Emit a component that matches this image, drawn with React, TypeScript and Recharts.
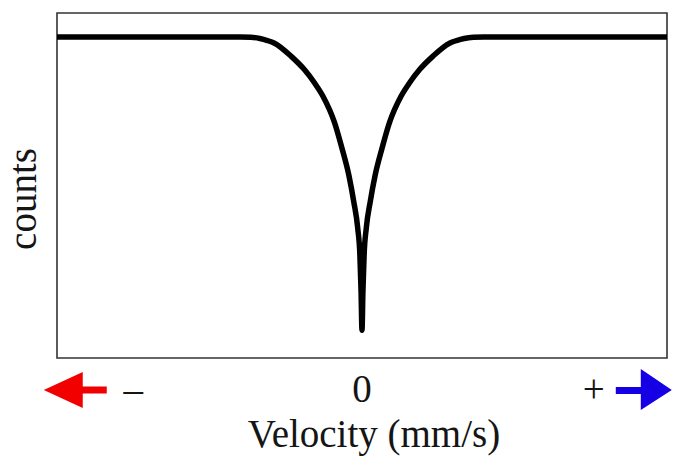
import React from 'react';
import { LineChart, Line, XAxis, YAxis, ReferenceArea, Label } from 'recharts';

// Velocity (mm/s) sample points of the absorption spectrum
const velocity = [
  -10, -4.0, -3.65, -3.35, -3.1, -2.87, -2.32, -1.89, -1.56, -1.28, -0.9, -0.65, -0.43, -0.27, -0.14, -0.07, -0.03,
  0,
  0.03, 0.07, 0.14, 0.27, 0.43, 0.65, 0.9, 1.28, 1.56, 1.89, 2.32, 2.87, 3.1, 3.35, 3.65, 4.0, 10,
];
// Relative counts (1 = off-resonance baseline)
const counts = [
  1, 1, 0.999, 0.995, 0.988, 0.979, 0.934, 0.889, 0.844, 0.798, 0.708, 0.618, 0.528, 0.438, 0.348, 0.258, 0.13,
  0,
  0.13, 0.258, 0.348, 0.438, 0.528, 0.618, 0.708, 0.798, 0.844, 0.889, 0.934, 0.979, 0.988, 0.995, 0.999, 1, 1,
];
const xTicks = [-7.5, 0, 7.6];
const tickLabels = ['–', '0', '+'];
const xDomain: [number, number] = [-10, 10];
const yDomain: [number, number] = [-0.095, 1.082];

const data = velocity.map((v, i) => ({ v, c: counts[i] }));

const FONT = '"Liberation Serif", "Times New Roman", serif';
const FS = 39;
const TEXT = '#151515';

function VelocityTick(props: any) {
  const { x, y, payload } = props;
  const idx = xTicks.indexOf(payload.value);
  const label = idx >= 0 ? tickLabels[idx] : '';
  const val = payload.value as number;
  return (
    <g>
      {val < 0 && (
        <path
          d={`M${x - 89.5},${y + 32} L${x - 50.5},${y + 14} L${x - 50.5},${y + 28.5} L${x - 26.5},${y + 28.5} L${x - 26.5},${y + 35.5} L${x - 50.5},${y + 35.5} L${x - 50.5},${y + 50} Z`}
          fill="#f20000"
        />
      )}
      {val > 0 && (
        <path
          d={`M${x + 22},${y + 29} L${x + 47},${y + 29} L${x + 47},${y + 11} L${x + 78},${y + 32} L${x + 47},${y + 52} L${x + 47},${y + 36} L${x + 22},${y + 36} Z`}
          fill="#1500e6"
        />
      )}
      <text x={x} y={y + 44} textAnchor="middle" fontFamily={FONT} fontSize={FS} fill={TEXT}>
        {label}
      </text>
    </g>
  );
}

function XLabel(props: any) {
  const vb = props.viewBox || {};
  return (
    <text
      x={vb.x + vb.width / 2 + 12}
      y={vb.y + vb.height - 11}
      textAnchor="middle"
      fontFamily={FONT}
      fontSize={FS}
      fill={TEXT}
    >
      Velocity (mm/s)
    </text>
  );
}

function YLabel(props: any) {
  const vb = props.viewBox || {};
  const cx = vb.x + 36;
  const cy = vb.y + vb.height / 2 + 13.5;
  return (
    <text
      x={cx}
      y={cy}
      transform={`rotate(-90 ${cx} ${cy})`}
      textAnchor="middle"
      fontFamily={FONT}
      fontSize={FS}
      fill={TEXT}
    >
      counts
    </text>
  );
}

export default function App() {
  return (
    <div style={{ position: 'absolute', left: 0, top: 0, width: 674, height: 458, background: '#fff' }}>
      <LineChart width={674} height={458} data={data} margin={{ top: 13, right: 7, bottom: 0, left: 0 }}>
        <XAxis
          dataKey="v"
          type="number"
          domain={xDomain}
          ticks={xTicks}
          interval={0}
          allowDataOverflow
          height={100}
          axisLine={false}
          tickLine={false}
          tickSize={0}
          tickMargin={0}
          tick={<VelocityTick />}
        >
          <Label content={<XLabel />} />
        </XAxis>
        <YAxis
          type="number"
          domain={yDomain}
          allowDataOverflow
          width={57}
          tick={false}
          axisLine={false}
          tickLine={false}
        >
          <Label content={<YLabel />} />
        </YAxis>
        <ReferenceArea
          x1={xDomain[0]}
          x2={xDomain[1]}
          y1={yDomain[0]}
          y2={yDomain[1]}
          fill="none"
          fillOpacity={0}
          stroke="#333"
          strokeWidth={1.6}
          ifOverflow="visible"
        />
        <Line
          dataKey="c"
          type="monotone"
          stroke="#000"
          strokeWidth={5.5}
          strokeLinejoin="round"
          dot={false}
          activeDot={false}
          isAnimationActive={false}
        />
      </LineChart>
    </div>
  );
}
